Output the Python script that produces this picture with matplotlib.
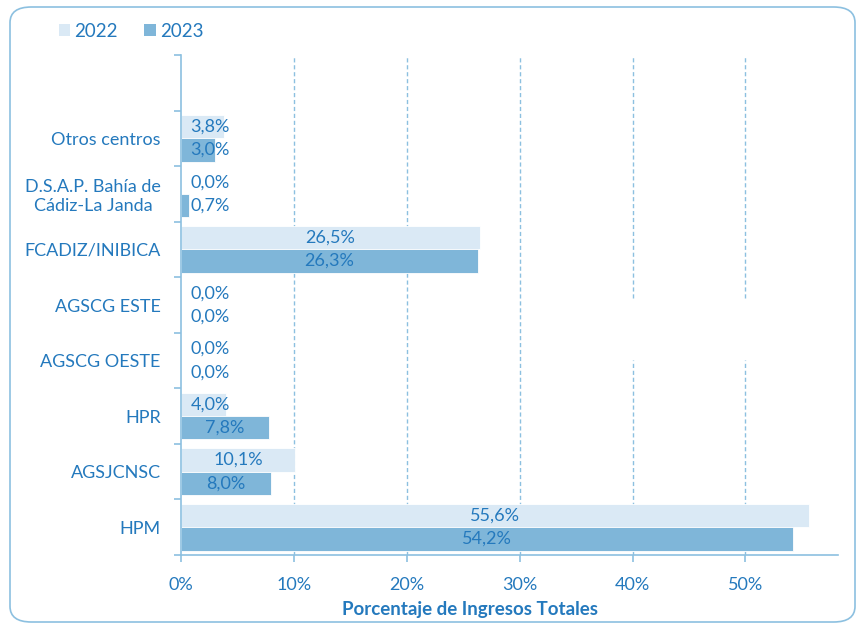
import matplotlib
matplotlib.use("Agg")
import matplotlib.pyplot as plt
from matplotlib.patches import FancyBboxPatch, Patch
import numpy as np

categories = ["HPM", "AGSJCNSC", "HPR", "AGSCG OESTE", "AGSCG ESTE",
              "FCADIZ/INIBICA", "D.S.A.P. Bahía de\nCádiz-La Janda", "Otros centros"]
values_2022 = [55.6, 10.1, 4.0, 0.0, 0.0, 26.5, 0.0, 3.8]
values_2023 = [54.2, 8.0, 7.8, 0.0, 0.0, 26.3, 0.7, 3.0]
series_names = ["2022", "2023"]
xticks = [0, 10, 20, 30, 40, 50]

plt.rcParams['font.family'] = ['Lato', 'DejaVu Sans']
TXT = "#2479BD"
AX = "#8CC0E0"
C22 = "#DAE9F5"
C23 = "#7FB6D9"

fig = plt.figure(figsize=(8.56, 6.25), dpi=100)

# rounded frame
frame = FancyBboxPatch((10/856, 3/625), 845/856, 615/625,
                       boxstyle="round,pad=0,rounding_size=0.025",
                       transform=fig.transFigure, fill=False,
                       edgecolor="#8CC0E0", linewidth=1.2, clip_on=False)
fig.patches.append(frame)

ax = fig.add_axes([181/856, 1-555/625, (838-181)/856, 500/625])
n = len(categories)
y = np.arange(n)
h = 0.42
ax.barh(y + h/2, values_2022, height=h, color=C22, edgecolor="white", linewidth=0.6, zorder=2)
ax.barh(y - h/2, values_2023, height=h, color=C23, edgecolor="white", linewidth=0.6, zorder=2)

ax.set_xlim(0, 58.2)
ax.set_ylim(-0.5, n + 0.5)

for i in range(n):
    for v, yy in ((values_2022[i], y[i] + h/2), (values_2023[i], y[i] - h/2)):
        lab = f"{v:.1f}%".replace(".", ",")
        ax.text(max(v/2, 2.6), yy, lab, ha="center", va="center",
                color=TXT, fontsize=13, zorder=3)

# gridlines
for xv in xticks[1:]:
    if xv >= 40:
        ax.axvline(xv, ymin=0, ymax=0.39, color=AX, lw=1, ls=(0, (3, 2)), zorder=1)
        ax.axvline(xv, ymin=0.514, ymax=1, color=AX, lw=1, ls=(0, (3, 2)), zorder=1)
    else:
        ax.axvline(xv, color=AX, lw=1, ls=(0, (3, 2)), zorder=1)

for s in ["top", "right"]:
    ax.spines[s].set_visible(False)
for s in ["left", "bottom"]:
    ax.spines[s].set_color(AX)
    ax.spines[s].set_linewidth(1.2)

ax.set_yticks(y)
ax.set_yticklabels(categories, color=TXT, fontsize=13, ha="right", multialignment="center")
ax.tick_params(axis="y", length=0, pad=14.5)
ax.set_yticks(np.arange(-0.5, n + 0.6, 1), minor=True)
ax.tick_params(axis="y", which="minor", length=5, color=AX, width=1.2, direction="out")

ax.set_xticks(xticks)
ax.set_xticklabels([f"{t}%" for t in xticks], color=TXT, fontsize=13)
ax.tick_params(axis="x", length=5, color=AX, width=1.2, direction="out", pad=11)

ax.set_xlabel("Porcentaje de Ingresos Totales", color=TXT, fontsize=13.5,
              fontweight="bold")
ax.xaxis.set_label_coords((470-181)/657, -(610-555)/500)
ax.xaxis.label.set_va("center")

handles = [Patch(facecolor=C22, edgecolor="none"), Patch(facecolor=C23, edgecolor="none")]
leg = fig.legend(handles, series_names, loc="upper left", bbox_to_anchor=(42/856, 1-6/625),
                 ncol=2, frameon=False, fontsize=13.5, handlelength=0.6, handleheight=0.6,
                 handletextpad=0.22, columnspacing=1.42, labelcolor=TXT)

fig.savefig("out.png", dpi=100)
